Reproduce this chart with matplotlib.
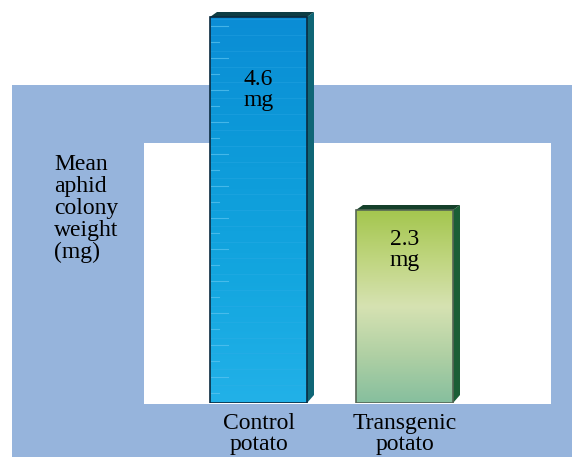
import numpy as np
import matplotlib
matplotlib.use("Agg")
import matplotlib.pyplot as plt
from matplotlib.patches import Rectangle, Polygon
from matplotlib.colors import LinearSegmentedColormap

categories = ["Control\npotato", "Transgenic\npotato"]
values = [4.6, 2.3]
value_labels = ["4.6\nmg", "2.3\nmg"]
ylabel = "Mean\naphid\ncolony\nweight\n(mg)"

W, H = 572, 457
fig = plt.figure(figsize=(W / 100, H / 100), dpi=100)
fig.patch.set_facecolor("white")

def fx(px):
    return px / W

def fy(py):
    return 1 - py / H

# background panels
fig.patches.append(Rectangle((fx(12), fy(457)), fx(572) - fx(12), fy(85) - fy(457),
                             transform=fig.transFigure, facecolor="#96b4dc", edgecolor="none", zorder=-2))
fig.patches.append(Rectangle((fx(144), fy(404)), fx(551) - fx(144), fy(143) - fy(404),
                             transform=fig.transFigure, facecolor="white", edgecolor="none", zorder=-1))

px_per_unit = 386 / 4.6
spacing = 146.0
x0 = 258.5
ax = fig.add_axes([0, fy(403), 1, fy(0) - fy(403)])
ax.set_zorder(1)
ax.set_xlim((0 - x0) / spacing, (W - x0) / spacing)
ax.set_ylim(0, 403 / px_per_unit)
ax.axis("off")
ax.patch.set_alpha(0)

width = 97 / spacing
dx = 7 / spacing
dy = 5 / px_per_unit
label_drop = [52 / px_per_unit, 19 / px_per_unit]

cmaps = [
    LinearSegmentedColormap.from_list("c", ["#0b8dd5", "#0d9ad9", "#13a6df", "#22b1e8"]),
    LinearSegmentedColormap.from_list("t", ["#a4c64e", "#bfd57e", "#d6e2b2", "#b0d0a4", "#86bf9e"]),
]
top_cols = ["#0e3d44", "#15402a"]
side_cols = ["#0f6676", "#1b5e36"]
edge_cols = ["#0a2a40", "#556655"]

FS = 17
xs = np.arange(len(categories))
for i, (x, v) in enumerate(zip(xs, values)):
    l, r = x - width / 2, x + width / 2
    grad = np.linspace(1, 0, 256).reshape(-1, 1)
    im = ax.imshow(grad, cmap=cmaps[i], aspect="auto", extent=[l, r, 0, v],
                   origin="lower", zorder=2)
    rect = Rectangle((l, 0), width, v, facecolor="none", edgecolor=edge_cols[i], lw=1.2, zorder=3)
    ax.add_patch(rect)
    im.set_clip_path(rect)
    if i == 0:
        # faint horizontal streaks
        for k, yy in enumerate(np.arange(0.12, v, 0.19)):
            ln = 0.12 if k % 2 else 0.06
            ax.plot([l + 0.005, l + ln], [yy, yy], color="#5cc4f0", lw=0.8, alpha=0.7, zorder=2.5)
            ax.plot([l, r], [yy + 0.09, yy + 0.09], color="#3cb0ea", lw=0.5, alpha=0.35, zorder=2.5)
    ax.add_patch(Polygon([(r, 0), (r + dx, dy * 1.6), (r + dx, v + dy), (r, v)],
                         closed=True, facecolor=side_cols[i], edgecolor="none", zorder=2))
    ax.add_patch(Polygon([(l, v), (l + dx, v + dy), (r + dx, v + dy), (r, v)],
                         closed=True, facecolor=top_cols[i], edgecolor="none", zorder=2))
    ax.text(x, v - label_drop[i], value_labels[i], ha="center", va="top", fontsize=FS,
            family="Liberation Serif", linespacing=1.0, zorder=4)
    ax.text(x, -10 / px_per_unit, categories[i], ha="center", va="top", fontsize=FS,
            family="Liberation Serif", linespacing=0.98, zorder=4, clip_on=False)

fig.text(fx(54), fy(154), ylabel, ha="left", va="top", fontsize=FS,
         family="Liberation Serif", linespacing=1.06)

fig.savefig("out.png", dpi=100)
